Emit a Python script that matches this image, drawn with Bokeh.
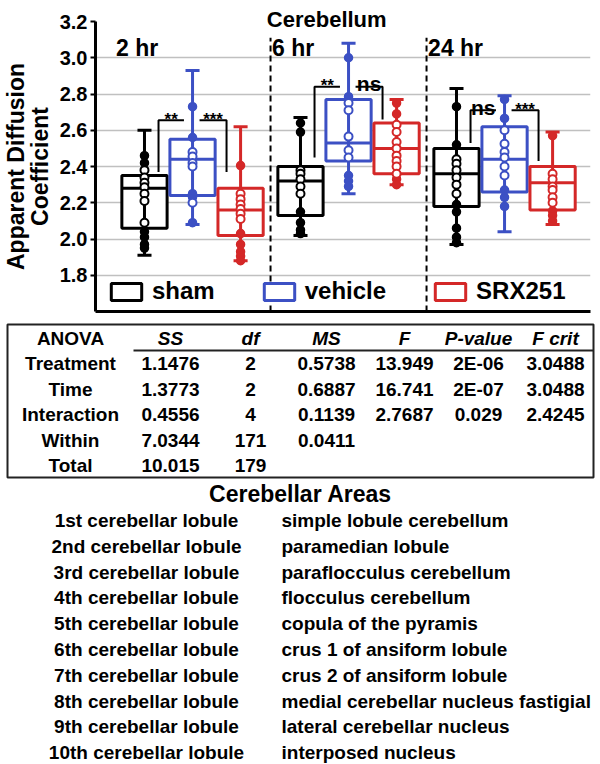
import numpy as np
from bokeh.plotting import figure
from bokeh.models import (Range1d, Legend, LegendItem, FixedTicker,
                          PrintfTickFormatter, ColumnDataSource)
from bokeh.layouts import column
from bokeh.embed import file_html
from bokeh.resources import INLINE
from bokeh.core.properties import value

FONT = "Liberation Sans"

# ---------------- data ----------------
times = ["2 hr", "6 hr", "24 hr"]
groups = ["sham", "vehicle", "SRX251"]
colors = ["#000000", "#3c50c4", "#d42828"]

# box statistics [time][treatment]
box_min = [[1.91, 2.08, 1.88], [2.02, 2.25, 2.30], [1.97, 2.04, 2.08]]
box_q1 = [[2.06, 2.24, 2.02], [2.13, 2.43, 2.36], [2.18, 2.26, 2.16]]
box_med = [[2.28, 2.44, 2.16], [2.32, 2.53, 2.50], [2.36, 2.44, 2.31]]
box_q3 = [[2.35, 2.55, 2.28], [2.40, 2.77, 2.64], [2.50, 2.62, 2.40]]
box_max = [[2.60, 2.93, 2.62], [2.67, 3.08, 2.77], [2.83, 2.79, 2.59]]

# individual points (filled / open markers) [time][treatment]
pts_filled = [
    [[2.46, 2.42, 2.04, 2.01, 1.97, 1.95],
     [2.73, 2.56, 2.25, 2.23, 2.09],
     [2.405, 2.03, 1.97, 1.93, 1.905, 1.88]],
    [[2.64, 2.59, 2.15, 2.09, 2.05, 2.03],
     [3.00, 2.785, 2.35, 2.32, 2.29],
     [2.75, 2.69, 2.33, 2.30]],
    [[2.73, 2.52, 2.19, 2.15, 2.06, 2.01, 1.98],
     [2.77, 2.665, 2.27, 2.23, 2.18],
     [2.57, 2.155, 2.13, 2.10]],
]
pts_open = [
    [[2.38, 2.34, 2.31, 2.285, 2.25, 2.21, 2.09],
     [2.48, 2.455, 2.42, 2.40, 2.20],
     [2.25, 2.22, 2.19, 2.165, 2.14, 2.11]],
    [[2.38, 2.36, 2.33, 2.29, 2.25],
     [2.75, 2.71, 2.565, 2.49, 2.45],
     [2.63, 2.59, 2.535, 2.50, 2.46, 2.43, 2.40, 2.36]],
    [[2.44, 2.415, 2.38, 2.34, 2.30, 2.25],
     [2.60, 2.525, 2.48, 2.45, 2.40, 2.35],
     [2.36, 2.33, 2.29, 2.27, 2.23, 2.20]],
]

# significance brackets per time point
br_top = [2.655, 2.84, 2.71]
br_left_low = [2.37, 2.45, 2.53]
br_right_low = [2.37, 2.66, 2.43]
br_left_lab = ["**", "**", "ns"]
br_right_lab = ["***", "ns", "***"]

y_ticks = [1.8, 2.0, 2.2, 2.4, 2.6, 2.8, 3.0, 3.2]

# ANOVA table
anova_head = ["ANOVA", "SS", "df", "MS", "F", "P-value", "F crit"]
anova_rows = ["Treatment", "Time", "Interaction", "Within", "Total"]
anova_ss = ["1.1476", "1.3773", "0.4556", "7.0344", "10.015"]
anova_df = ["2", "2", "4", "171", "179"]
anova_ms = ["0.5738", "0.6887", "0.1139", "0.0411", ""]
anova_f = ["13.949", "16.741", "2.7687", "", ""]
anova_p = ["2E-06", "2E-07", "0.029", "", ""]
anova_fcrit = ["3.0488", "3.0488", "2.4245", "", ""]

areas_title = "Cerebellar Areas"
lobules = ["1st cerebellar lobule", "2nd cerebellar lobule", "3rd cerebellar lobule",
           "4th cerebellar lobule", "5th cerebellar lobule", "6th cerebellar lobule",
           "7th cerebellar lobule", "8th cerebellar lobule", "9th cerebellar lobule",
           "10th cerebellar lobule"]
areas = ["simple lobule cerebellum", "paramedian lobule", "paraflocculus cerebellum",
         "flocculus cerebellum", "copula of the pyramis", "crus 1 of ansiform lobule",
         "crus 2 of ansiform lobule", "medial cerebellar nucleus fastigial",
         "lateral cerebellar nucleus", "interposed nucleus"]

# ---------------- chart ----------------
W, H = 600, 764
BL, BR = 95, 10
H1 = 320
off = [-0.308, 0.0, 0.308]
hw = 0.145
cw = 0.045

p = figure(width=W, height=H1, x_range=Range1d(-0.622, 2.551), y_range=Range1d(1.6, 3.2),
           output_backend="svg", toolbar_location=None,
           min_border_left=BL, min_border_right=BR, min_border_top=21, min_border_bottom=9)
p.outline_line_color = None
p.xgrid.grid_line_color = None
p.ygrid.grid_line_color = "#c0c0c0"
p.ygrid.grid_line_width = 1.5
p.yaxis.ticker = FixedTicker(ticks=y_ticks)
p.yaxis.formatter = PrintfTickFormatter(format="%.1f")
p.yaxis.axis_label = "Apparent Diffusion\nCoefficient"
p.yaxis.axis_label_text_font = FONT
p.yaxis.axis_label_text_font_size = "23px"
p.yaxis.axis_label_text_font_style = "bold"
p.yaxis.axis_label_text_color = "black"
p.yaxis.axis_label_text_line_height = 0.9
p.yaxis.axis_label_standoff = 4
p.yaxis.major_label_text_font = FONT
p.yaxis.major_label_text_font_size = "20px"
p.yaxis.major_label_text_font_style = "bold"
p.yaxis.major_label_text_color = "black"
p.yaxis.major_label_standoff = 3
p.yaxis.axis_line_width = 3
p.yaxis.axis_line_color = "black"
p.yaxis.major_tick_line_width = 2
p.yaxis.major_tick_line_color = "black"
p.yaxis.major_tick_out = 5
p.yaxis.major_tick_in = 0
p.yaxis.minor_tick_line_color = None

p.xaxis.ticker = FixedTicker(ticks=[])
p.xaxis.major_label_text_font_size = "0px"
p.xaxis.major_tick_line_color = None
p.xaxis.minor_tick_line_color = None
p.xaxis.axis_line_width = 3
p.xaxis.axis_line_color = "black"

# dashed separators between time groups
sep_x = [t + 0.5 for t in range(len(times) - 1)]
p.segment(x0=sep_x, y0=[1.6] * len(sep_x), x1=sep_x, y1=[3.11] * len(sep_x),
          line_color="black", line_width=2, line_dash="6 4")

# time labels
p.text(x=[t - 0.49 for t in range(len(times))], y=[3.055] * len(times), text=times,
       text_font=value(FONT), text_font_size="23px", text_font_style="bold",
       text_baseline="middle", text_align="left", text_color="black")

legend_items = []
for j, g in enumerate(groups):
    xc = [t + off[j] for t in range(len(times))]
    src = ColumnDataSource(dict(
        x=xc,
        left=[x - hw for x in xc], right=[x + hw for x in xc],
        cl=[x - cw for x in xc], cr=[x + cw for x in xc],
        lo=[box_min[t][j] for t in range(len(times))],
        q1=[box_q1[t][j] for t in range(len(times))],
        med=[box_med[t][j] for t in range(len(times))],
        q3=[box_q3[t][j] for t in range(len(times))],
        hi=[box_max[t][j] for t in range(len(times))],
    ))
    r = p.quad(left="left", right="right", bottom="q1", top="q3", source=src,
               fill_color="white", line_color=colors[j], line_width=3)
    p.segment(x0="x", y0="lo", x1="x", y1="hi", source=src, line_color=colors[j], line_width=3)
    p.segment(x0="left", y0="med", x1="right", y1="med", source=src, line_color=colors[j], line_width=3)
    p.segment(x0="cl", y0="lo", x1="cr", y1="lo", source=src, line_color=colors[j], line_width=3)
    p.segment(x0="cl", y0="hi", x1="cr", y1="hi", source=src, line_color=colors[j], line_width=3)
    fx, fy, ox, oy = [], [], [], []
    for t in range(len(times)):
        fy += pts_filled[t][j]
        fx += [xc[t]] * len(pts_filled[t][j])
        oy += pts_open[t][j]
        ox += [xc[t]] * len(pts_open[t][j])
    p.scatter(x=fx, y=fy, size=8, marker="circle", fill_color=colors[j], line_color=colors[j], line_width=1.5)
    p.scatter(x=ox, y=oy, size=8, marker="circle", fill_color="white", line_color=colors[j], line_width=2)
    legend_items.append(LegendItem(label=g, renderers=[r]))

# significance brackets
bxs, bys, tx, ty, tt, tsize, toff = [], [], [], [], [], [], []
for t in range(len(times)):
    lx0 = t + off[0] + 0.09
    lx1 = t - 0.055
    rx0 = t + 0.045
    rx1 = t + off[2] - 0.09
    bxs.append([lx0, lx0, lx1]); bys.append([br_left_low[t], br_top[t], br_top[t]])
    bxs.append([rx0, rx1, rx1]); bys.append([br_top[t], br_top[t], br_right_low[t]])
    for lab, xm in ((br_left_lab[t], (lx0 + lx1) / 2), (br_right_lab[t], (rx0 + rx1) / 2)):
        tx.append(xm); ty.append(br_top[t]); tt.append(lab)
        star = lab.startswith("*")
        tsize.append("17px" if star else "21px")
        toff.append(-1 if star else -3)
p.multi_line(xs=bxs, ys=bys, line_color="black", line_width=2)
p.text(x=tx, y=ty, text=tt, text_font=value(FONT), text_font_size=tsize, y_offset=toff,
       text_font_style="bold", text_align="center", text_baseline="alphabetic", text_color="black")

# chart title (drawn above the frame, not clipped)
p.text(x=[0.86], y=[3.2], text=["Cerebellum"], y_offset=-2, level="overlay",
       text_font=value(FONT), text_font_size="22px", text_font_style="bold",
       text_align="center", text_baseline="alphabetic", text_color="black")

legend = Legend(items=legend_items, orientation="horizontal", location=(12, 6))
legend.label_text_font = FONT
legend.label_text_font_size = "24px"
legend.label_text_font_style = "bold"
legend.label_text_color = "black"
legend.glyph_width = 38
legend.glyph_height = 21
legend.label_standoff = 7
legend.spacing = 45
legend.padding = 0
legend.margin = 0
legend.border_line_color = None
legend.background_fill_alpha = 0
p.add_layout(legend)

# ---------------- table + list ----------------
H2 = H - H1
p2 = figure(width=W, height=H2, x_range=Range1d(BL, W - BR), y_range=Range1d(H2, 0),
            output_backend="svg", toolbar_location=None,
            min_border_left=BL, min_border_right=BR, min_border_top=0, min_border_bottom=0)
p2.axis.visible = False
p2.grid.grid_line_color = None
p2.outline_line_color = None

col_x = [70, 170, 250, 326, 404, 478, 555]
head_y = 18
row_y0, row_dy = 43, 25.5
tbl_font = "19px"
TXT = dict(text_font=value(FONT), text_color="black", level="overlay")

p2.quad(left=[7], right=[593], top=[4], bottom=[157], fill_alpha=0,
        line_color="#222222", line_width=2, level="overlay")
p2.segment(x0=[133], y0=[30], x1=[593], y1=[30], line_color="#222222", line_width=2, level="overlay")

p2.text(x=[col_x[0]], y=[head_y], text=[anova_head[0]], text_font_size=tbl_font,
        text_font_style="bold", text_align="center", text_baseline="middle", **TXT)
p2.text(x=col_x[1:], y=[head_y] * 6, text=anova_head[1:], text_font_size=tbl_font,
        text_font_style="bold italic", text_align="center", text_baseline="middle", **TXT)

cols = [anova_rows, anova_ss, anova_df, anova_ms, anova_f, anova_p, anova_fcrit]
for c, vals in enumerate(cols):
    ys = [row_y0 + i * row_dy for i in range(len(vals))]
    p2.text(x=[col_x[c]] * len(vals), y=ys, text=vals, text_font_size=tbl_font,
            text_font_style="bold", text_align="center", text_baseline="middle", **TXT)

p2.text(x=[300], y=[173], text=[areas_title], text_font_size="23px",
        text_font_style="bold", text_align="center", text_baseline="middle", **TXT)
list_y = [200 + i * 25.8 for i in range(len(lobules))]
p2.text(x=[146] * len(lobules), y=list_y, text=lobules, text_font_size="19px",
        text_font_style="bold", text_align="center", text_baseline="middle", **TXT)
p2.text(x=[281] * len(areas), y=list_y, text=areas, text_font_size="19px",
        text_font_style="bold", text_align="left", text_baseline="middle", **TXT)

layout = column(p, p2, spacing=0)
open("out.html", "w").write(file_html(layout, INLINE))
